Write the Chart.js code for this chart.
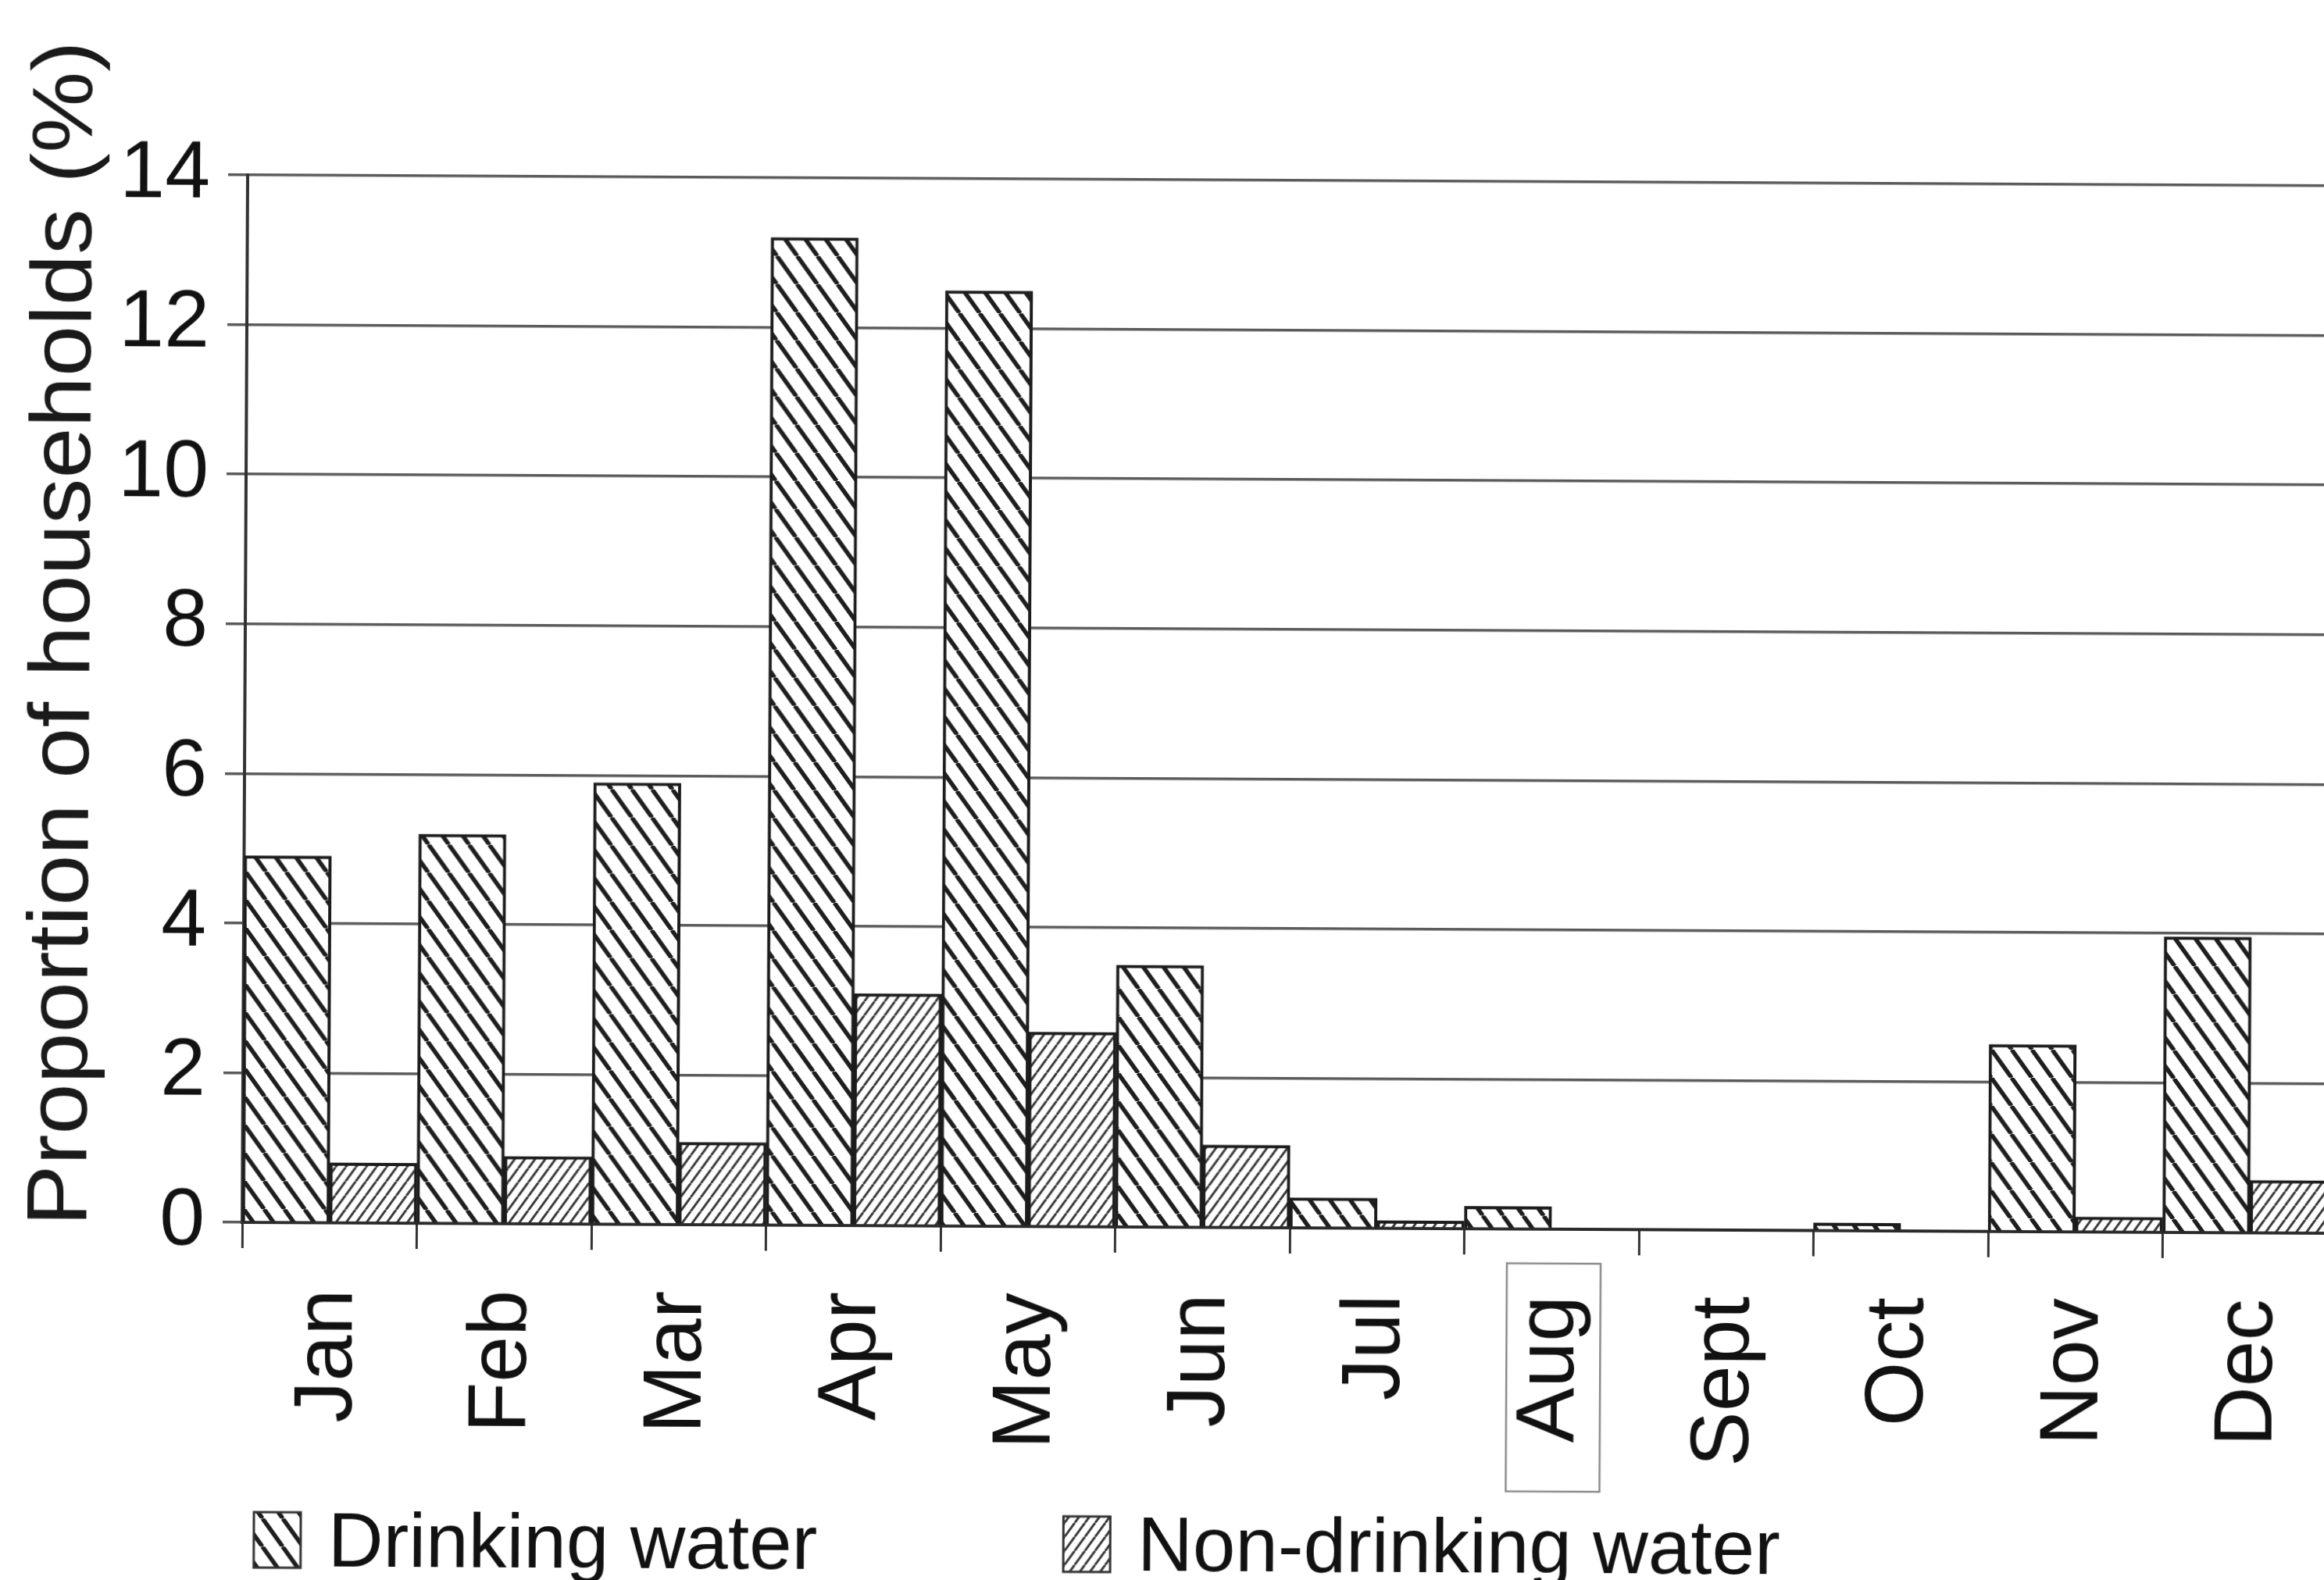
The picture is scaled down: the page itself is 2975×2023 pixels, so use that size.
<!DOCTYPE html>
<html>
<head>
<meta charset="utf-8">
<script src="https://cdn.jsdelivr.net/npm/chart.js@4.4.0/dist/chart.umd.min.js"></script>
<style>
  html, body { margin: 0; padding: 0; background: #fff; overflow: hidden; }
  /* the printed figure sits slightly skewed on the page */
  canvas { display: block; transform: rotate(0.3deg); transform-origin: 310px 1565px; }
</style>
</head>
<body>
<canvas id="waterChart" width="3000" height="2023"></canvas>
<script>
const months = ["Jan", "Feb", "Mar", "Apr", "May", "Jun", "Jul", "Aug", "Sept", "Oct", "Nov", "Dec"];
const drinking = [4.9, 5.2, 5.9, 13.2, 12.5, 3.5, 0.4, 0.3, 0, 0.1, 2.5, 3.95];
const nonDrinking = [0.8, 0.9, 1.1, 3.1, 2.6, 1.1, 0.1, 0, 0, 0, 0.2, 0.7];
const yTicks = [0, 2, 4, 6, 8, 10, 12, 14];
const yTitle = "Proportion of households (%)";
const seriesNames = ["Drinking water", "Non-drinking water"];

const FONT = '"Liberation Sans", Arial, sans-serif';

const cnv = document.getElementById("waterChart");
const ctx = cnv.getContext("2d");

// diagonal hatch tile; "down" = \\\ , "up" = ///
function hatch(w, h, lineW, color, dir) {
    const tile = document.createElement("canvas");
    tile.width = w;
    tile.height = h;
    const g = tile.getContext("2d");
    g.fillStyle = "#fff";
    g.fillRect(0, 0, w, h);
    g.strokeStyle = color;
    g.lineWidth = lineW;
    g.beginPath();
    for (let k = -1; k <= 1; k++) {
        if (dir === "down") { g.moveTo(k * w, 0); g.lineTo(k * w + w, h); }
        else { g.moveTo(k * w, h); g.lineTo(k * w + w, 0); }
    }
    g.stroke();
    return ctx.createPattern(tile, "repeat");
}

const drinkFill = hatch(26, 36, 5.5, "#1e1e1e", "down");
const otherFill = hatch(13, 18, 3, "#3a3a3a", "up");

// rotated axis title, drawn by hand so it is not squeezed into the axis height
const sideTitle = {
    id: "sideTitle",
    afterDraw(chart) {
        const c = chart.ctx;
        c.save();
        c.translate(80, chart.chartArea.bottom + 6);
        c.rotate(-Math.PI / 2);
        c.scale(1.065, 1);
        c.font = "110px " + FONT;
        c.fillStyle = "#1a1a1a";
        c.textAlign = "left";
        c.textBaseline = "middle";
        c.fillText(yTitle, 0, 0);
        c.restore();
    }
};

// legend row under the month labels
const hatchLegend = {
    id: "hatchLegend",
    afterDraw(chart) {
        const c = chart.ctx;
        c.save();
        c.font = "98px " + FONT;
        c.textBaseline = "alphabetic";
        let x = 327;
        chart.data.datasets.forEach(ds => {
            c.fillStyle = ds.backgroundColor;
            c.fillRect(x, 1936, 60, 71);
            c.strokeStyle = "#333";
            c.lineWidth = 3;
            c.strokeRect(x, 1936, 60, 71);
            c.fillStyle = "#111";
            c.fillText(ds.label, x + 95, 2005);
            x += 95 + c.measureText(ds.label).width + 315;
        });
        c.restore();
    }
};

// thin frame around the August label
const labelFrame = {
    id: "labelFrame",
    afterDraw(chart) {
        const xs = chart.scales.x;
        const px = xs.getPixelForValue(months.indexOf("Aug"));
        const c = chart.ctx;
        c.save();
        c.strokeStyle = "#8a8a8a";
        c.lineWidth = 2.5;
        c.strokeRect(px - 57, xs.top + 44, 120, 292);
        c.restore();
    }
};

const waterChart = new Chart(ctx, {
    type: "bar",
    data: {
        labels: months,
        datasets: [{
            label: seriesNames[0],
            data: drinking,
            backgroundColor: drinkFill,
            borderColor: "#1c1c1c",
            borderWidth: 4,
            barPercentage: 1,
            categoryPercentage: 1
        }, {
            label: seriesNames[1],
            data: nonDrinking,
            backgroundColor: otherFill,
            borderColor: "#1c1c1c",
            borderWidth: 4,
            barPercentage: 1,
            categoryPercentage: 1
        }]
    },
    options: {
        responsive: false,
        devicePixelRatio: 1,
        animation: false,
        layout: { padding: { left: 0, top: 224, right: 8, bottom: 158 } },
        plugins: {
            legend: { display: false },
            tooltip: { enabled: false }
        },
        scales: {
            x: {
                grid: { offset: true, drawOnChartArea: false, tickLength: 33, color: "#333", lineWidth: 3 },
                border: { color: "#2a2a2a", width: 4 },
                ticks: {
                    minRotation: 90,
                    maxRotation: 90,
                    padding: 52,
                    color: "#111",
                    font: { family: FONT, size: 106 }
                },
                afterFit: s => {
                    s.height = 300;
                    s.paddingLeft = 0;
                    s.paddingRight = 0;
                }
            },
            y: {
                min: yTicks[0],
                max: yTicks[yTicks.length - 1],
                afterBuildTicks: s => { s.ticks = yTicks.map(v => ({ value: v })); },
                ticks: { padding: 23, color: "#111", font: { family: FONT, size: 104 } },
                grid: { color: "#5a5a5a", lineWidth: 3.5, tickLength: 25 },
                border: { color: "#333", width: 4 },
                afterFit: s => { s.width = 310; }
            }
        }
    },
    plugins: [sideTitle, hatchLegend, labelFrame]
});
</script>
</body>
</html>
